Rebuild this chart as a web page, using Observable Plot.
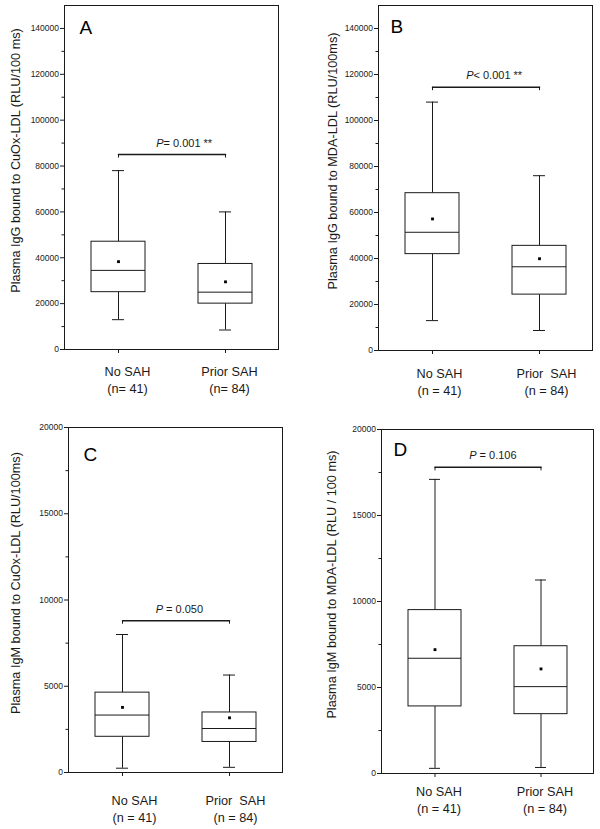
<!DOCTYPE html>
<html><head><meta charset="utf-8">
<script src="https://cdn.jsdelivr.net/npm/d3@7"></script>
<script src="https://cdn.jsdelivr.net/npm/@observablehq/plot@0.6"></script>
<style>
body{margin:0;background:#fff;}
#wrap{position:relative;width:600px;height:829px;}
#wrap > div{position:absolute;}
svg text{white-space:pre;}
</style></head><body><div id="wrap"></div>
<script>
// ---------- data ----------
const panels = ["A", "B", "C", "D"];
const categories = ["No SAH", "Prior SAH"];
const whiskerLow  = [[13000, 8500], [13000, 8700], [250, 300], [300, 350]];
const quartile1   = [[25000, 20000], [41900, 24300], [2070, 1770], [3900, 3450]];
const median      = [[34500, 25000], [51400, 36400], [3330, 2550], [6700, 5050]];
const quartile3   = [[47000, 37300], [68400, 45500], [4630, 3480], [9500, 7400]];
const whiskerHigh = [[78000, 60000], [108000, 76000], [8000, 5650], [17100, 11250]];
const mean        = [[38300, 29500], [57200, 39900], [3775, 3170], [7200, 6080]];
const bracketY    = [85000, 114500, 8800, 17800];
const pSymbol = "P";
const pRest = ["= 0.001 **", "< 0.001 **", " = 0.050", " = 0.106"];
const yLabels = [
  "Plasma IgG bound to CuOx-LDL (RLU/100 ms)",
  "Plasma IgG bound to MDA-LDL (RLU/100ms)",
  "Plasma IgM bound to CuOx-LDL (RLU/100ms)",
  "Plasma IgM bound to MDA-LDL (RLU / 100 ms)"
];
const groupLabels = [["No SAH", "Prior SAH"], ["No SAH", "Prior  SAH"], ["No SAH", "Prior  SAH"], ["No SAH", "Prior SAH"]];
const nLabels = [["(n= 41)", "(n= 84)"], ["(n = 41)", "(n = 84)"], ["(n = 41)", "(n = 84)"], ["(n = 41)", "(n = 84)"]];
const yDomainMax = [150000, 150000, 20000, 20000];
const igGMajorTicks = [0, 20000, 40000, 60000, 80000, 100000, 120000, 140000];
const igGMinorTicks = [10000, 30000, 50000, 70000, 90000, 110000, 130000];
const igMMajorTicks = [0, 5000, 10000, 15000, 20000];
const igMMinorTicks = [2500, 7500, 12500, 17500];

// ---------- layout ----------
const layout = [
  {left: 0,   top: 0,   w: 300, h: 400, mL: 64, mR: 22, mT: 5,  mB: 51, labDx: -49, xDy: 14.5, xDx: [9, 4],  letDx: 15, letDy: 28, pDx: -8},
  {left: 300, top: 0,   w: 300, h: 400, mL: 78, mR: 8,  mT: 5,  mB: 50, labDx: -46, xDy: 15.5, xDx: [7, 7],  letDx: 12, letDy: 27, pDx: -12},
  {left: 0,   top: 400, w: 300, h: 429, mL: 68, mR: 18, mT: 27, mB: 57, labDx: -53, xDy: 20.5, xDx: [12, 6], letDx: 15, letDy: 33, pDx: -12.5},
  {left: 300, top: 400, w: 300, h: 429, mL: 81, mR: 7,  mT: 29, mB: 56, labDx: -50, xDy: 10.5, xDx: [4, 4],  letDx: 12, letDy: 26, pDx: -11}
];
const ink = "#1a1a1a";
const wrap = document.getElementById("wrap");

panels.forEach((id, p) => {
  const L = layout[p];
  const rows = categories.map((c, i) => ({
    cat: c, lo: whiskerLow[p][i], q1: quartile1[p][i], med: median[p][i],
    q3: quartile3[p][i], hi: whiskerHigh[p][i], mean: mean[p][i],
    label: groupLabels[p][i] + "\n" + nLabels[p][i]
  }));
  const bracket = categories.map(c => ({cat: c, y: bracketY[p]}));
  const major = p < 2 ? igGMajorTicks : igMMajorTicks;
  const minor = p < 2 ? igGMinorTicks : igMMinorTicks;
  const chart = Plot.plot({
    width: L.w, height: L.h,
    marginLeft: L.mL, marginRight: L.mR, marginTop: L.mT, marginBottom: L.mB,
    style: {fontFamily: "Arial, 'Liberation Sans', sans-serif", color: ink, background: "white"},
    x: {type: "band", domain: categories, paddingInner: 0.5, paddingOuter: 0.25, label: null},
    y: {domain: [0, yDomainMax[p]], label: null},
    marks: [
      Plot.axisY({ticks: major, tickSize: 4, tickPadding: 1.5, fontSize: 8.5, tickFormat: d => String(d), label: null}),
      Plot.axisY({ticks: minor, tickSize: 2.5, tickFormat: () => "", label: null}),
      Plot.axisX({tickSize: 4, tickFormat: () => "", label: null}),
      ...rows.map((r, i) => Plot.text([r], {x: "cat", text: "label", frameAnchor: "bottom", dy: L.xDy, dx: L.xDx[i],
        lineAnchor: "top", lineHeight: 1.32, fontSize: 12.7, fill: ink})),
      Plot.frame({stroke: ink}),
      Plot.ruleX(rows, {x: "cat", y1: "lo", y2: "q1", stroke: ink}),
      Plot.ruleX(rows, {x: "cat", y1: "q3", y2: "hi", stroke: ink}),
      Plot.tickY(rows, {x: "cat", y: "hi", stroke: ink, insetLeft: 21, insetRight: 21}),
      Plot.tickY(rows, {x: "cat", y: "lo", stroke: ink, insetLeft: 21, insetRight: 21}),
      Plot.barY(rows, {x: "cat", y1: "q1", y2: "q3", fill: "white", stroke: ink}),
      Plot.tickY(rows, {x: "cat", y: "med", stroke: ink}),
      Plot.dot(rows, {x: "cat", y: "mean", symbol: "square", r: 1.6, fill: "black", stroke: null}),
      Plot.lineY(bracket, {x: "cat", y: "y", stroke: ink}),
      Plot.ruleX(bracket, {x: "cat", y1: "y", y2: "y", stroke: ink, insetTop: 3.5}),
      Plot.text([pSymbol], {text: d => d, frameAnchor: "top", y: () => bracketY[p], dx: L.pDx, dy: -8,
        textAnchor: "end", lineAnchor: "bottom", fontSize: 11, fontStyle: "italic", fill: ink}),
      Plot.text([pRest[p]], {text: d => d, frameAnchor: "top", y: () => bracketY[p], dx: L.pDx, dy: -8,
        textAnchor: "start", lineAnchor: "bottom", fontSize: 11, fill: ink}),
      Plot.text([id], {text: d => d, frameAnchor: "top-left", dx: L.letDx, dy: L.letDy,
        textAnchor: "start", lineAnchor: "bottom", fontSize: 19, fill: "black"}),
      Plot.text([yLabels[p]], {text: d => d, frameAnchor: "left", dx: L.labDx, dy: -17, rotate: -90,
        textAnchor: "middle", lineAnchor: "middle", fontSize: 12.7, fill: ink})
    ]
  });
  const holder = document.createElement("div");
  holder.style.left = L.left + "px";
  holder.style.top = L.top + "px";
  holder.appendChild(chart);
  wrap.appendChild(holder);
});
</script></body></html>
